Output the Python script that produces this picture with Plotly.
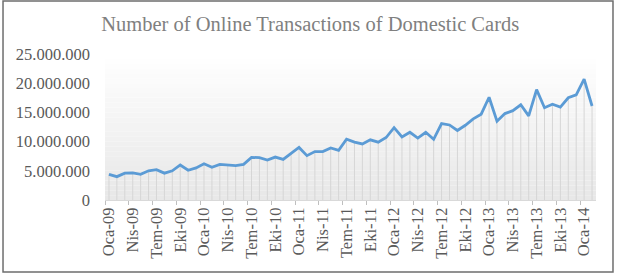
import plotly.graph_objects as go

MONTHS = ["Oca", "Şub", "Mar", "Nis", "May", "Haz", "Tem", "Ağu", "Eyl", "Eki", "Kas", "Ara"]
YEARS = ["09", "10", "11", "12", "13", "14"]
N_POINTS = 62
categories = [f"{m}-{y}" for y in YEARS for m in MONTHS][:N_POINTS]

# Number of online transactions (millions), Jan 2009 - Feb 2014
transactions_m = [
    4.4, 4.0, 4.6, 4.65, 4.4, 5.0, 5.2, 4.6, 5.0, 6.0, 5.1, 5.5,
    6.2, 5.6, 6.1, 6.0, 5.9, 6.1, 7.3, 7.25, 6.85, 7.35, 6.95, 8.0,
    9.0, 7.6, 8.3, 8.3, 8.9, 8.5, 10.4, 9.9, 9.6, 10.3, 9.9, 10.7,
    12.4, 10.8, 11.6, 10.6, 11.6, 10.4, 13.1, 12.85, 11.9, 12.8, 13.9, 14.7,
    17.6, 13.5, 14.8, 15.3, 16.3, 14.4, 18.9, 15.8, 16.4, 15.9, 17.5, 18.0,
    20.7, 16.1,
]
values = [v * 1_000_000 for v in transactions_m]
y_ticks = [0, 5_000_000, 10_000_000, 15_000_000, 20_000_000, 25_000_000]

SERIF = "Liberation Serif"

fig = go.Figure()
fig.add_trace(go.Scatter(
    x=categories, y=values, mode="lines",
    line=dict(color="#5b9bd5", width=2.8),
    error_y=dict(type="data", symmetric=False, array=[0] * len(values),
                 arrayminus=values, color="#d6d6d6", thickness=1, width=0),
    hoverinfo="x+y",
))

# plot area vertical gradient (white -> light gray)
shapes = []
n_bands = 30
for k in range(n_bands):
    t = k / (n_bands - 1)
    c = int(255 - (255 - 232) * (1 - t))
    shapes.append(dict(type="rect", xref="paper", yref="paper",
                       x0=0, x1=1, y0=k / n_bands, y1=(k + 1) / n_bands,
                       fillcolor=f"rgb({c},{c},{c})", line=dict(width=0),
                       layer="below"))
# outer chart border
shapes.append(dict(type="rect", xref="paper", yref="paper",
                   x0=-0.2077, x1=1.0346, y0=-0.493, y1=1.363,
                   line=dict(color="#6e6e6e", width=1.5),
                   fillcolor="rgba(0,0,0,0)", layer="above"))

fig.update_layout(
    width=618, height=274,
    margin=dict(l=105, r=22, t=54, b=74),
    paper_bgcolor="white", plot_bgcolor="rgba(0,0,0,0)",
    separators=",.",
    showlegend=False,
    shapes=shapes,
    title=dict(text="Number of Online Transactions of Domestic Cards",
               x=0.502, xanchor="center", y=0.912, yanchor="middle",
               font=dict(family=SERIF, size=20.5, color="#808080")),
    xaxis=dict(
        type="category", tickmode="linear", tick0=0, dtick=3,
        tickson="boundaries", ticks="outside", ticklen=4, tickcolor="#bfbfbf",
        showline=True, linecolor="#d9d9d9", linewidth=1,
        showgrid=False, tickangle=-90,
        tickfont=dict(family=SERIF, size=16.5, color="#595959"),
        range=[-0.5, N_POINTS - 0.5],
    ),
    yaxis=dict(
        range=[0, 25_000_000], tickvals=y_ticks, tickformat=",d",
        showgrid=False, zeroline=False, showline=False,
        tickfont=dict(family=SERIF, size=16.5, color="#595959"),
        ticks="", ticklabelstandoff=14,
    ),
)

fig.write_html("out.html")
